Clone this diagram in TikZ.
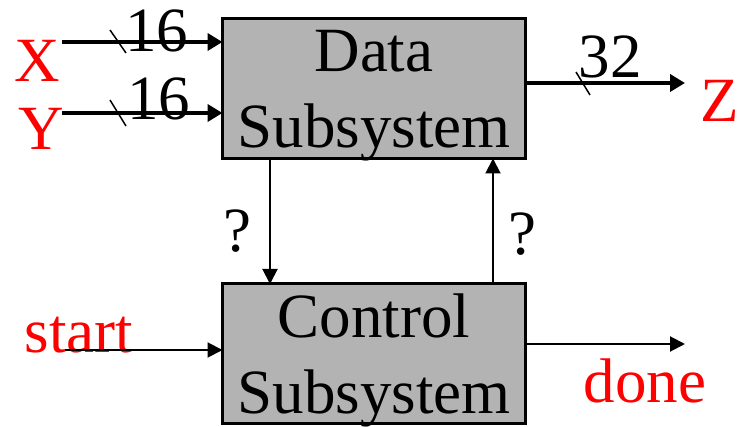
\documentclass[tikz,border=0pt]{standalone}
\usepackage{fontspec}
\newfontfamily\tms{Liberation Serif}
\usetikzlibrary{arrows.meta}
\definecolor{boxgray}{RGB}{179,179,179}
\begin{document}
\begin{tikzpicture}[x=1pt,y=-1pt,
  subsys/.style={draw=black, line width=3pt, fill=boxgray, minimum width=303pt,
    minimum height=140pt, inner sep=0pt, outer sep=0pt},
  boxtext/.style={align=center, inner sep=0pt, font=\tms\fontsize{63}{76}\selectfont},
  lbl/.style={inner sep=0pt, anchor=base, font=\tms\fontsize{63}{72}\selectfont},
  sig/.style={lbl, text=red},
  bus/.style={line width=4pt, -{Triangle[length=15pt,width=17pt]}},
  wire/.style={line width=2pt, -{Triangle[length=15pt,width=15pt]}},
  slash/.style={line width=1.5pt}]
  \useasboundingbox (0,0) rectangle (740,427);

  % the two subsystem blocks
  \node[subsys] (data) at (374,88.5) {};
  \node[subsys] (ctrl) at (374,354) {};
  \node[boxtext, yshift=-7pt] (datatxt) at (data.center) {Data\\Subsystem};
  \node[boxtext, yshift=-6pt] (ctrltxt) at (ctrl.center) {Control\\Subsystem};

  % input and output signal names
  \node[sig] (x) at (37.5,82) {X};
  \node[sig] (y) at (41,150) {Y};
  \node[sig] (z) at (720,122) {Z};
  \node[sig] (start) at (79,353) {start};
  \node[sig] (done) at (645,403) {done};

  % free ends of the connectors
  \coordinate (xin) at (62,42);
  \coordinate (yin) at (62,113);
  \coordinate (zout) at (685,83);
  \coordinate (sin) at (65,350);
  \coordinate (dout) at (685,344);
  \coordinate (down) at (270,0);
  \coordinate (up) at (493,0);

  % 16-bit inputs and 32-bit output
  \draw[bus] (xin) -- (xin -| data.west);
  \draw[bus] (yin) -- (yin -| data.west);
  \draw[bus] (zout -| data.east) -- (zout);
  \draw[slash] (110,30) -- (126,53);
  \draw[slash] (110,100) -- (126,126);
  \draw[slash] (576,72) -- (590,95);
  \node[lbl] (w1) at (156.5,52) {16};
  \node[lbl] (w2) at (158.5,120) {16};
  \node[lbl] (w3) at (610,78) {32};

  % control wires
  \draw[wire] (sin) -- (sin -| ctrl.west);
  \draw[wire] (dout -| ctrl.east) -- (dout);
  \draw[wire] (data.south -| down) -- (ctrl.north -| down);
  \draw[wire] (ctrl.north -| up) -- (data.south -| up);
  \node[lbl] (q1) at (237,252) {?};
  \node[lbl] (q2) at (522,255) {?};
\end{tikzpicture}
\end{document}
